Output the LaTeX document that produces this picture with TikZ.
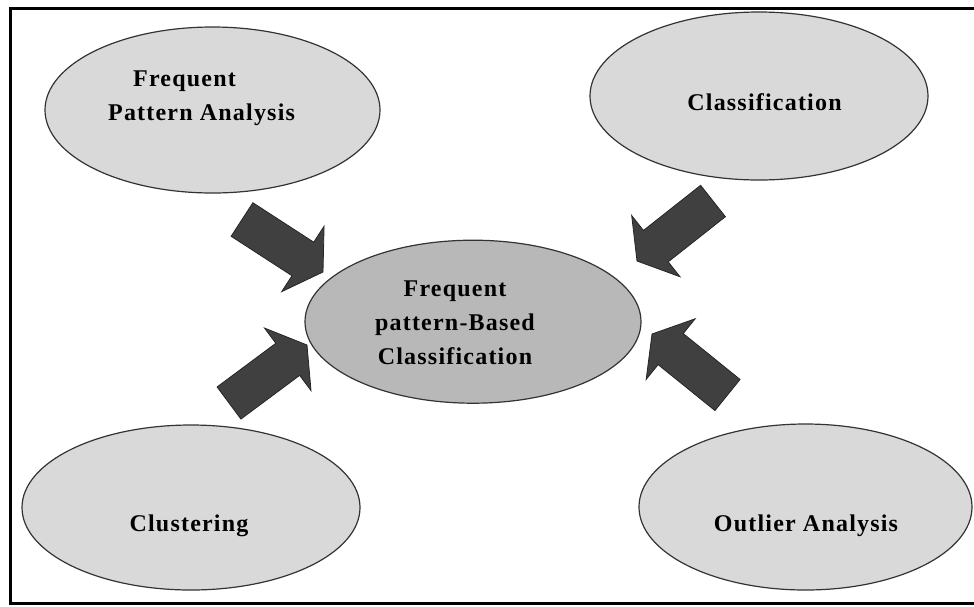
\documentclass[tikz,border=0pt]{standalone}
\usepackage{fontspec}
\setmainfont{Liberation Serif}
\newfontfamily\diagfont[LetterSpace=5]{Liberation Serif}
\usetikzlibrary{shapes.geometric,calc}
\definecolor{blobgray}{HTML}{D9D9D9}
\definecolor{hubgray}{HTML}{B8B8B8}
\definecolor{arrowgray}{HTML}{404040}
\definecolor{edgegray}{HTML}{333333}

\begin{document}
\begin{tikzpicture}[%
  x=1pt, y=-1pt,
  blob/.style={ellipse, draw=edgegray, line width=1.2pt, fill=blobgray, inner sep=0pt},
  hub/.style={blob, fill=hubgray},
  tlabel/.style={font=\diagfont\bfseries\fontsize{24}{34}\selectfont, inner sep=0pt, anchor=base},
  blockarrow/.style={fill=arrowgray, draw=black!85, line width=0.8pt, line join=miter}]
\useasboundingbox (0,0) rectangle (974,606);
\draw[line width=3pt, line join=miter] (974,8) -- (10,8) -- (10,603) -- (974,603);

% ellipses
\node[blob, minimum width=335pt, minimum height=166pt] (fpa) at (212.5,110) {};
\node[blob, minimum width=338pt, minimum height=168pt] (cls) at (759,96) {};
\node[blob, minimum width=338pt, minimum height=165pt] (clu) at (191,507.5) {};
\node[blob, minimum width=333pt, minimum height=166pt] (oa) at (805.5,507) {};
\node[hub, minimum width=336pt, minimum height=163pt] (fpbc) at (473,321.7) {};

% texts (base = last line)
\node[tlabel, align=left, anchor=base west] (fpa-label) at (108,120.7) {\hspace*{25pt}Frequent\\Pattern Analysis};
\node[tlabel] (cls-label) at (764.5,110) {Classification};
\node[tlabel] (clu-label) at (189,531.7) {Clustering};
\node[tlabel] (oa-label) at (806,531.7) {Outlier Analysis};
\node[tlabel, align=center] (fpbc-label) at (455,364.3) {Frequent\\pattern-Based\\Classification};

% block arrows
\coordinate (fpa-tail) at (242,219.5);  \coordinate (fpa-tip) at (323,272);
\coordinate (cls-tail) at (713,201);    \coordinate (cls-tip) at (637,261);
\coordinate (clu-tail) at (229,403);    \coordinate (clu-tip) at (307,345);
\coordinate (oa-tail) at (727.5,395);   \coordinate (oa-tip) at (652,334);
\foreach \src in {fpa,cls,clu,oa}{
  \coordinate (\src-neck) at ($(\src-tip)!24pt!(\src-tail)$);
  \filldraw[blockarrow] ($(\src-tail)!20pt!90:(\src-tip)$)
    -- ($(\src-neck)!20pt!-90:(\src-tail)$) -- ($(\src-neck)!39pt!-90:(\src-tail)$)
    -- (\src-tip)
    -- ($(\src-neck)!39pt!90:(\src-tail)$) -- ($(\src-neck)!20pt!90:(\src-tail)$)
    -- ($(\src-tail)!20pt!-90:(\src-tip)$) -- cycle;
}
\end{tikzpicture}
\end{document}
